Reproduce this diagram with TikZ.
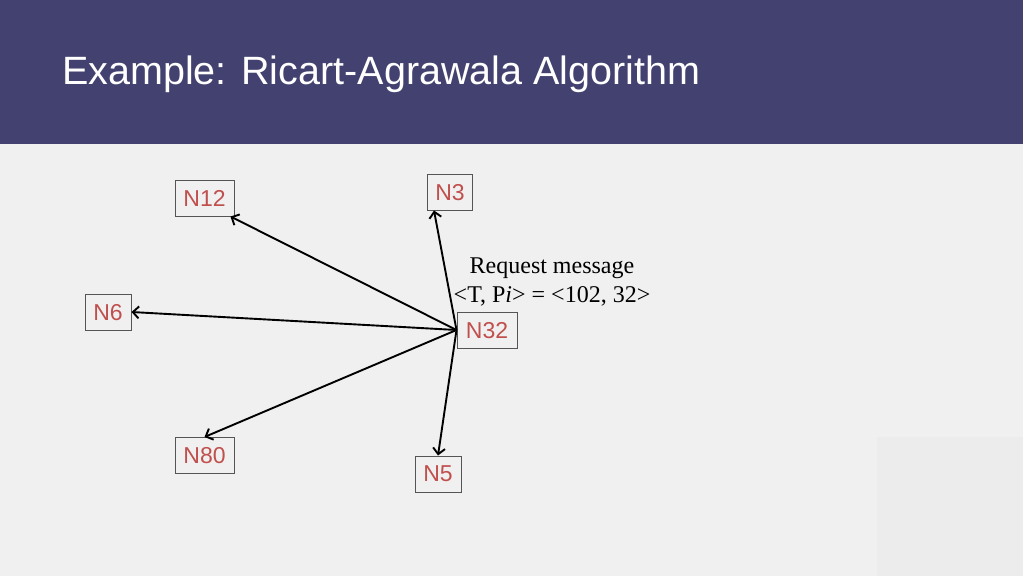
\documentclass[tikz,border=0pt]{standalone}
\usepackage{fontspec}
\setmainfont{Liberation Serif}
\setsansfont{Liberation Sans}
\usetikzlibrary{calc,arrows.meta}
\definecolor{hdr}{HTML}{424170}
\definecolor{bg}{HTML}{F0F0F0}
\definecolor{bgb}{HTML}{ECECEC}
\definecolor{nodetxt}{HTML}{C0504D}
\definecolor{nodebrd}{HTML}{555555}
\tikzset{
  nodebox/.style={draw=nodebrd, line width=1pt, text=nodetxt, font=\sffamily\fontsize{23}{26}\selectfont,
    inner sep=0pt, minimum height=36pt, text depth=0pt},
  msg/.style={-{Straight Barb[length=6pt,width=12pt,line width=1.9pt]}, line width=1.9pt, black}
}
\begin{document}
\begin{tikzpicture}[x=1pt,y=-1pt]
\useasboundingbox (0,0) rectangle (1023,576);
\fill[bg] (0,0) rectangle (1023,576);
\fill[bgb] (877,437) rectangle (1023,576);
\fill[hdr] (0,0) rectangle (1023,144);
\node[anchor=west, text=white, font=\sffamily\fontsize{39.5}{44}\selectfont, inner sep=0pt] (title) at (62,74) {Example: Ricart-Agrawala Algorithm};

\node[nodebox, minimum width=59pt] (N12) at (204.5,198) {N12};
\node[nodebox, minimum width=45pt] (N3) at (450,192) {N3};
\node[nodebox, minimum width=60pt] (N32) at (487,330) {N32};
\node[nodebox, minimum width=46pt] (N6) at (108,312) {N6};
\node[nodebox, minimum width=59pt] (N80) at (204.5,455.5) {N80};
\node[nodebox, minimum width=46pt] (N5) at (438,474) {N5};

\node[font=\fontsize{24}{29}\selectfont, align=center, inner sep=0pt] (lbl) at (552,282) {Request message\\<T, P\textit{i}> = <102, 32>};

\coordinate (src) at (N32.west);
\draw[msg] (src) -- ($(N12.south east)+(-4,0)$);
\draw[msg] (src) -- (N6.east);
\draw[msg] (src) -- (N80.north);
\draw[msg] (src) -- (N5.north);
\draw[msg] (src) -- ($(N3.south)+(-16,0)$);
\end{tikzpicture}
\end{document}
